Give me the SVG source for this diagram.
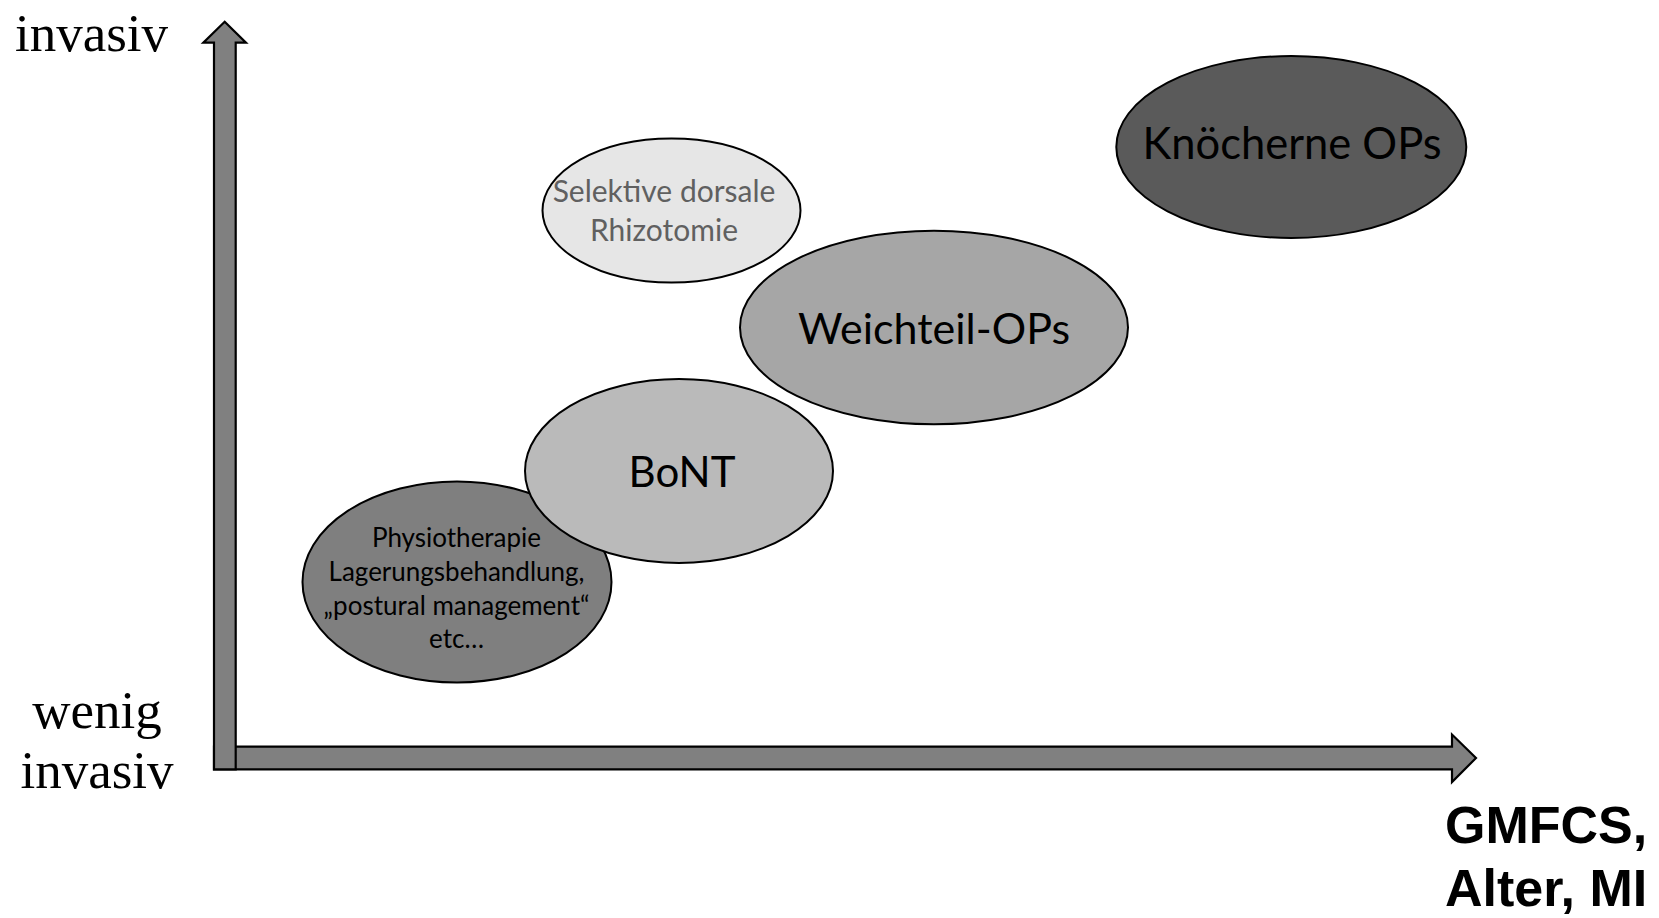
<svg xmlns="http://www.w3.org/2000/svg" width="1659" height="918" viewBox="0 0 1659 918">
<style>
.axis{fill:#808080;stroke:#000;stroke-width:2.2;stroke-linejoin:miter}
.node{stroke:#000;stroke-width:2}
.serif{font-family:"Liberation Serif","Times New Roman",serif;font-size:53px;fill:#000}
.cal{font-family:Lato,"Open Sans",sans-serif;text-anchor:middle;fill:#000}
.bold{font-family:"Liberation Sans",Arial,sans-serif;font-weight:bold;font-size:52px;fill:#000}
</style>
<rect width="1659" height="918" fill="#fff"/>
<g id="connectors">
<path class="axis" d="M214,746.7 L1452,746.7 L1452,734.5 L1476,758 L1452,782 L1452,769.3 L214,769.3 Z"/>
<path class="axis" d="M214,769.3 L214,42.7 L203.3,42.7 L224.7,21.7 L246,42.7 L235.7,42.7 L235.7,769.3 Z"/>
</g>
<g id="physio">
<ellipse class="node" cx="457" cy="582" rx="154.5" ry="100.5" fill="#7f7f7f"/>
<text class="cal" font-size="26" x="456.5" y="547">Physiotherapie</text>
<text class="cal" font-size="26" x="456.5" y="581">Lagerungsbehandlung,</text>
<text class="cal" font-size="26" x="456.5" y="615">„postural management“</text>
<text class="cal" font-size="26" x="456.5" y="648">etc…</text>
</g>
<g id="bont">
<ellipse class="node" cx="679" cy="471" rx="154" ry="92" fill="#bababa"/>
<text class="cal" font-size="42" x="682" y="487">BoNT</text>
</g>
<g id="weichteil">
<ellipse class="node" cx="934" cy="327.5" rx="194" ry="96.8" fill="#a6a6a6"/>
<text class="cal" font-size="43" x="934" y="344">Weichteil-OPs</text>
</g>
<g id="sdr">
<ellipse class="node" cx="671.5" cy="210.5" rx="129" ry="72" fill="#e6e6e6"/>
<text class="cal" font-size="30" x="664" y="202" style="fill:#606060">Selektive dorsale</text>
<text class="cal" font-size="30" x="664" y="241" style="fill:#606060">Rhizotomie</text>
</g>
<g id="knochen">
<ellipse class="node" cx="1291.3" cy="147" rx="175" ry="91" fill="#5a5a5a"/>
<text class="cal" font-size="43.5" x="1292" y="159">Knöcherne OPs</text>
</g>
<g id="labels">
<text class="serif" x="15" y="51">invasiv</text>
<text class="serif" x="97" y="728" text-anchor="middle">wenig</text>
<text class="serif" x="97" y="788" text-anchor="middle">invasiv</text>
<text class="bold" x="1445" y="843">GMFCS,</text>
<text class="bold" x="1445" y="906">Alter, MI</text>
</g>
</svg>
